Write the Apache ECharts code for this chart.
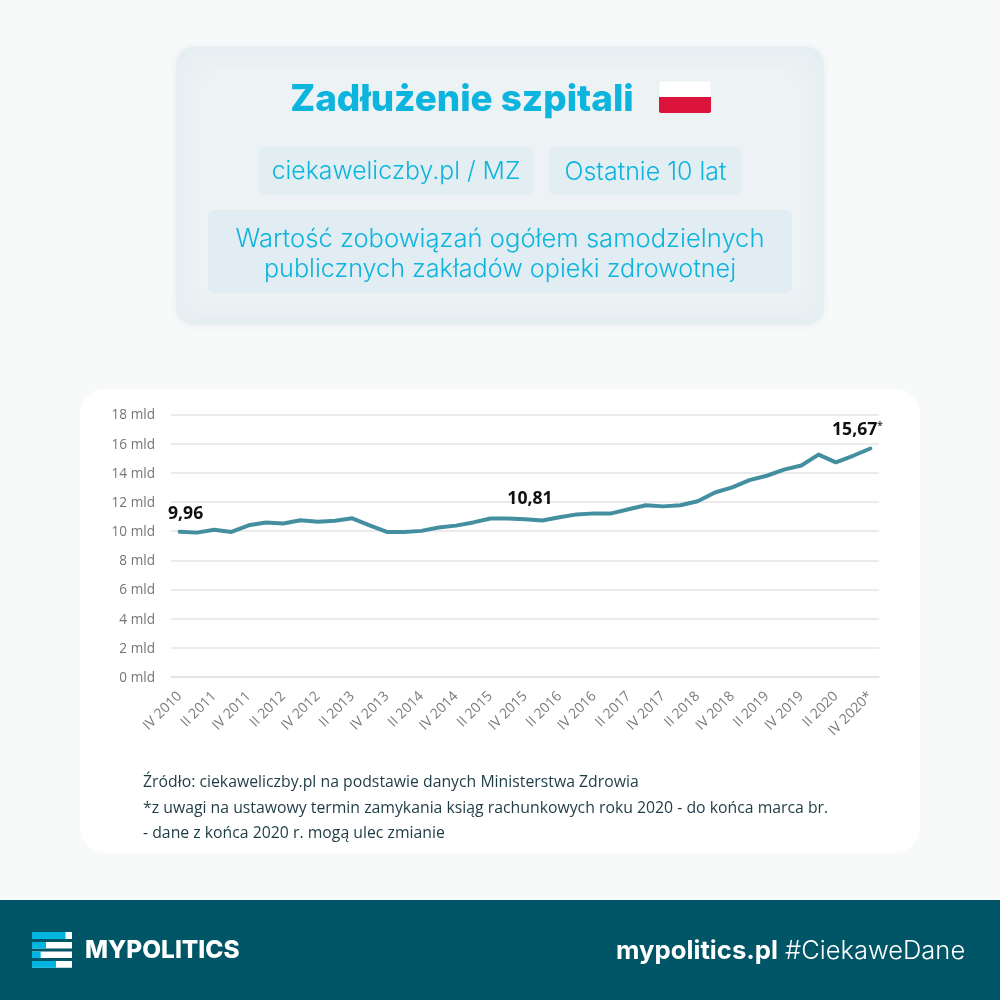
<!DOCTYPE html>
<html>
<head>
<meta charset="utf-8">
<style>
html,body{margin:0;padding:0;background:#f8fafa;}
#chart{width:1000px;height:1000px;}
</style>
<script src="https://cdn.jsdelivr.net/npm/echarts@6/dist/echarts.min.js"></script>
</head>
<body>
<div id="chart"></div>
<script>
//kwartały
var categories=['IV 2010','I 2011','II 2011','III 2011','IV 2011','I 2012','II 2012','III 2012','IV 2012',
    'I 2013','II 2013','III 2013','IV 2013','I 2014','II 2014','III 2014','IV 2014','I 2015','II 2015','III 2015','IV 2015',
    'I 2016','II 2016','III 2016','IV 2016','I 2017','II 2017','III 2017','IV 2017','I 2018','II 2018','III 2018','IV 2018',
    'I 2019','II 2019','III 2019','IV 2019','I 2020','II 2020','III 2020','IV 2020*'];

//zobowiązania, mld zł
var debtValues=[9.96,9.9,10.1,9.95,10.4,10.6,10.52,10.75,10.65,
    10.72,10.88,10.4,9.95,9.95,10.02,10.25,10.38,10.6,10.87,10.87,10.81,
    10.73,10.95,11.15,11.22,11.22,11.5,11.78,11.7,11.78,12.05,12.65,13.0,
    13.5,13.8,14.22,14.5,15.25,14.72,15.17,15.67];

//podpisane punkty
var labelledPoints=[0,20,40];

var titleText='Zadłużenie szpitali';
var sourceText='ciekaweliczby.pl / MZ';
var periodText='Ostatnie 10 lat';
var descLines=['Wartość zobowiązań ogółem samodzielnych','publicznych zakładów opieki zdrowotnej'];
var noteLines=['Źródło: ciekaweliczby.pl na podstawie danych Ministerstwa Zdrowia',
    '*z uwagi na ustawowy termin zamykania ksiąg rachunkowych roku 2020 - do końca marca br.',
    '- dane z końca 2020 r. mogą ulec zmianie'];

var cyan='#0db4de';
var headFont='Inter';
var bodyFont='"Open Sans"';

function box(x,y,w,h,r,fill,extra){
    var style={fill:fill};
    for(var k in extra){style[k]=extra[k];}
    return {type:'rect',z:-5,shape:{x:x,y:y,width:w,height:h,r:r},style:style};
}
function txt(x,y,text,font,fill,align){
    return {type:'text',z:-1,x:x,y:y,style:{text:text,font:font,fill:fill,align:align||'center',verticalAlign:'middle'}};
}

var graphics=[
    box(176,47,648,278,18,'#e5eef1',{shadowBlur:8,shadowColor:'rgba(150,180,190,0.18)'})
];
//miękkie przejście koloru karty od krawędzi do środka
var cardSteps=['#e6eef1','#e7eff2','#e8f0f2','#e9f0f3','#eaf1f3','#ebf1f3','#ecf2f4','#edf2f4'];
cardSteps.forEach(function(c,i){
    var inset=(i+1)*3;
    graphics.push(box(176+inset,47+inset,648-inset*2,278-inset*2,18,c));
});

graphics=graphics.concat([
    box(258,147,276,48,6,'#e3eef2'),
    box(549,147,193,48,6,'#e3eef2'),
    box(208,210,584,83,6,'#e1edf2'),
    //flaga
    box(659,81,52,16,[2,2,0,0],'#ffffff',{stroke:'#dcecef',lineWidth:0.5}),
    box(659,97,52,16,[0,0,2,2],'#dc143c'),
    //panel wykresu
    box(80,389,840,464,26,'#ffffff'),
    //stopka
    box(0,900,1000,100,0,'#005566'),
    //logo
    box(32,932,40,7,0,'#ffffff'),box(32,932,33.5,7,0,'#00b5df'),
    box(32,942,40,6.6,0,'#ffffff'),box(32,942,14,6.6,0,'#00b5df'),
    box(32,951.5,40,6.6,0,'#ffffff'),box(32,951.5,8.7,6.6,0,'#00b5df'),
    box(32,961,40,6.8,0,'#ffffff'),box(32,961,24,6.8,0,'#00b5df'),
    txt(462,99.5,titleText,'800 36.8px '+headFont,cyan),
    txt(396,172,sourceText,'300 24.8px '+headFont,cyan),
    txt(645.5,172,periodText,'300 25px '+headFont,cyan),
    txt(500,239,descLines[0],'300 25.6px '+headFont,cyan),
    txt(500,269,descLines[1],'300 25.2px '+headFont,cyan),
    txt(143,782,noteLines[0],'400 15.8px '+bodyFont,'#1d3c44','left'),
    txt(143,808,noteLines[1],'400 15.8px '+bodyFont,'#1d3c44','left'),
    txt(143,833,noteLines[2],'400 15.8px '+bodyFont,'#1d3c44','left'),
    txt(85,951,'MYPOLITICS','800 24.4px '+headFont,'#ffffff','left'),
    txt(778,951,'mypolitics.pl','700 25.7px '+headFont,'#ffffff','right'),
    txt(785,951,'#CiekaweDane','300 25.5px '+headFont,'#ffffff','left')
]);

//etykiety wybranych punktów
function pointLabel(i){
    var offsets={0:[6,-3],20:[5,-6],40:[-13,-4]};
    var text=debtValues[i].toFixed(2).replace('.',',');
    return {show:true,position:'top',offset:offsets[i],
        formatter:i===40?'{v|'+text+'}{s|*}':'{v|'+text+'}',
        rich:{v:{fontFamily:'"Open Sans"',fontSize:17.6,fontWeight:700,color:'#111111'},
              s:{fontFamily:'"Open Sans"',fontSize:10,fontWeight:700,color:'#444444',verticalAlign:'top'}}};
}
var seriesData=debtValues.map(function(v,i){
    return labelledPoints.indexOf(i)>=0?{value:v,label:pointLabel(i)}:v;
});

var myChart=echarts.init(document.getElementById('chart'));
myChart.setOption({
    animation:false,
    backgroundColor:'#f8fafa',
    textStyle:{fontFamily:'"Open Sans"'},
    graphic:{elements:graphics},
    grid:{left:171,right:121,top:414.5,bottom:323,containLabel:false},
    xAxis:{
        type:'category',
        data:categories,
        boundaryGap:true,
        axisTick:{show:false},
        axisLine:{lineStyle:{color:'#e4e4e4',width:1.5}},
        axisLabel:{interval:1,rotate:45,margin:17,fontSize:14,color:'#7a7a7a',fontFamily:'"Open Sans"'}
    },
    yAxis:{
        type:'value',
        min:0,max:18,interval:2,
        axisLine:{show:false},
        axisTick:{show:false},
        splitLine:{lineStyle:{color:'#e4e4e4',width:1.5}},
        axisLabel:{margin:16,fontSize:13.6,color:'#757575',fontFamily:'"Open Sans"',formatter:'{value} mld',verticalAlign:'top',padding:[-6,0,0,0]}
    },
    series:[{
        type:'line',
        data:seriesData,
        showSymbol:true,
        showAllSymbol:true,
        symbol:'circle',
        symbolSize:1,
        itemStyle:{color:'#448f9f'},
        smooth:false,
        lineStyle:{color:'#448f9f',width:4,cap:'round',join:'round'}
    }]
});
</script>
</body>
</html>
